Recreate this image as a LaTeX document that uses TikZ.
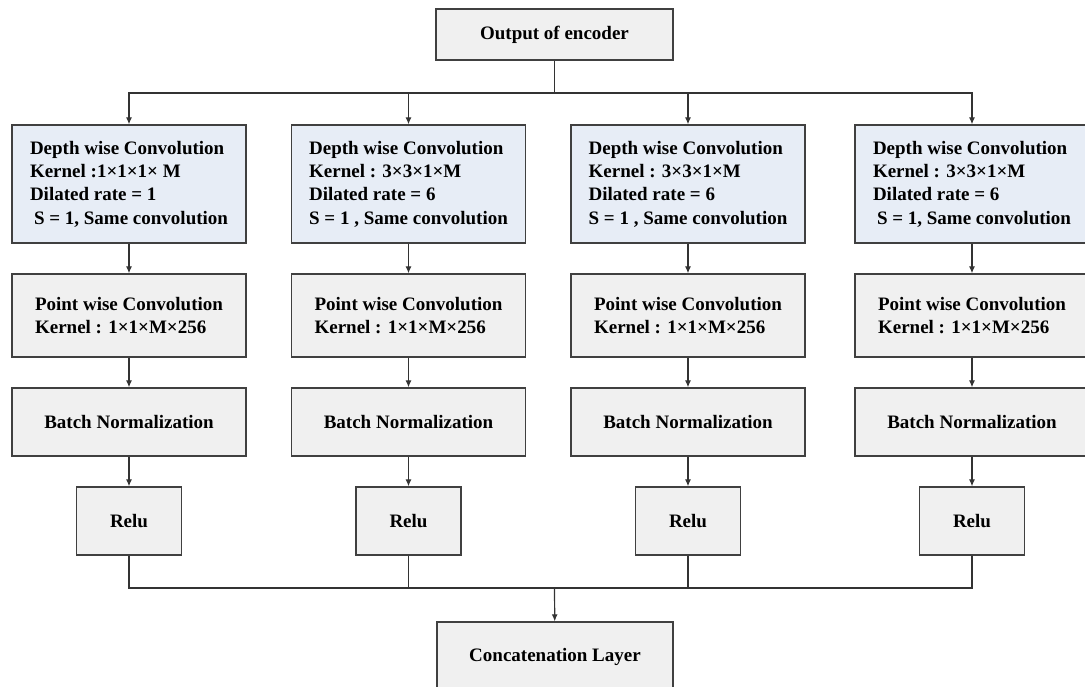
\documentclass[tikz,border=0pt]{standalone}
\usepackage{fontspec}
\setmainfont{Liberation Serif}
\usetikzlibrary{arrows.meta,positioning}
\definecolor{depthblue}{RGB}{231,237,246}
\definecolor{boxgray}{RGB}{240,240,240}
\definecolor{edgegray}{RGB}{64,64,64}

\begin{document}
\begin{tikzpicture}[x=1pt, y=-1pt,
    font=\bfseries\fontsize{19}{23.3}\selectfont,
    box/.style={draw=edgegray, line width=1.3pt, fill=boxgray, inner sep=0pt, minimum width=234pt},
    depthbox/.style={box, fill=depthblue, minimum height=118pt, align=left},
    pointbox/.style={box, minimum height=83pt, align=left},
    batchbox/.style={box, minimum height=68pt, align=center},
    relubox/.style={box, minimum width=105pt, minimum height=68pt},
    link/.style={draw=black!80, line width=1.2pt},
    arr/.style={link, -{Latex[length=7pt,width=6pt]}}
]

\useasboundingbox (0,0) rectangle (1085,686);

% Encoder output on top
\node[box, minimum width=237pt, minimum height=51pt] (enc) at (554.5,34.5) {Output of encoder};
\coordinate (split) at (554.5,93);

% Depth wise convolutions, one per branch
\node[depthbox] (D1) at (129,184) {Depth wise Convolution\\Kernel :1×1×1× M\\Dilated rate = 1\\\hspace{4pt}S = 1, Same convolution};
\node[depthbox] (D2) at (408.5,184) {Depth wise Convolution\\Kernel : 3×3×1×M\\Dilated rate = 6\\S = 1 , Same convolution};
\node[depthbox] (D3) at (688,184) {Depth wise Convolution\\Kernel : 3×3×1×M\\Dilated rate = 6\\S = 1 , Same convolution};
\node[depthbox] (D4) at (972,184) {Depth wise Convolution\\Kernel : 3×3×1×M\\Dilated rate = 6\\\hspace{4pt}S = 1, Same convolution};

% Point wise conv, batch norm and relu under each branch
\foreach \i/\cx in {1/129, 2/408.5, 3/688, 4/972}{
    \node[pointbox] (P\i) at (\cx,315.5) {Point wise Convolution\\Kernel : 1×1×M×256};
    \node[batchbox] (B\i) at (\cx,422) {Batch Normalization};
    \node[relubox] (R\i) at (\cx,521) {Relu};
}

% Concatenation at the bottom
\coordinate (merge) at (554.5,588);
\node[box, minimum width=236pt, minimum height=70pt] (cat) at (555,657) {Concatenation Layer};

% Branch edges
\draw[link] (enc) -- (split);
\foreach \i in {1,2,3,4}{
    \draw[arr] (split) -| (D\i.north);
    \draw[arr] (D\i) -- (P\i);
    \draw[arr] (P\i) -- (B\i);
    \draw[arr] (B\i) -- (R\i);
    \draw[link] (R\i) |- (merge);
}
\draw[arr] (merge) -- (cat);

\end{tikzpicture}
\end{document}
